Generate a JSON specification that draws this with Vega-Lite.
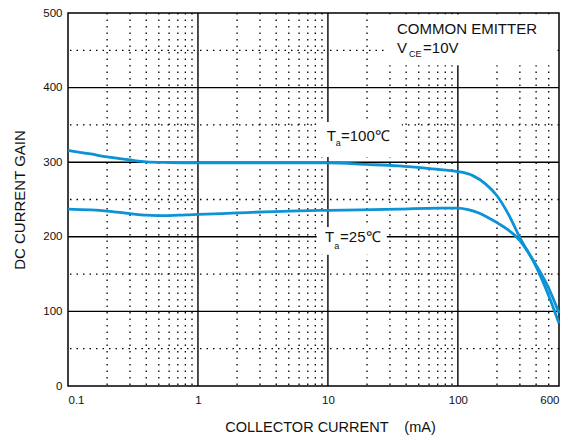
{
  "$schema": "https://vega.github.io/schema/vega-lite/v6.json",
  "width": 491,
  "height": 373,
  "autosize": {"type": "none"},
  "padding": {"left": 68, "top": 13, "right": 14, "bottom": 54},
  "config": {
    "view": {"stroke": "#000", "strokeWidth": 1.5},
    "font": "Liberation Sans",
    "axis": {"grid": false, "ticks": false, "domain": false, "labelFont": "Liberation Sans", "titleFont": "Liberation Sans", "labelColor": "#111", "titleColor": "#111", "titleFontWeight": "normal"}
  },
  "datasets": {
    "curves": [
      {"ic": 0.1, "gain": 316, "ta": "100"},
      {"ic": 0.15, "gain": 311, "ta": "100"},
      {"ic": 0.2, "gain": 307, "ta": "100"},
      {"ic": 0.3, "gain": 303, "ta": "100"},
      {"ic": 0.4, "gain": 300.5, "ta": "100"},
      {"ic": 0.6, "gain": 299.5, "ta": "100"},
      {"ic": 1, "gain": 299, "ta": "100"},
      {"ic": 3, "gain": 299, "ta": "100"},
      {"ic": 6, "gain": 299, "ta": "100"},
      {"ic": 10, "gain": 299, "ta": "100"},
      {"ic": 20, "gain": 297, "ta": "100"},
      {"ic": 35, "gain": 295, "ta": "100"},
      {"ic": 64, "gain": 291, "ta": "100"},
      {"ic": 100, "gain": 287.5, "ta": "100"},
      {"ic": 130, "gain": 282, "ta": "100"},
      {"ic": 163, "gain": 271, "ta": "100"},
      {"ic": 200, "gain": 255, "ta": "100"},
      {"ic": 247, "gain": 229, "ta": "100"},
      {"ic": 300, "gain": 199, "ta": "100"},
      {"ic": 400, "gain": 160, "ta": "100"},
      {"ic": 500, "gain": 121, "ta": "100"},
      {"ic": 600, "gain": 84, "ta": "100"},
      {"ic": 0.1, "gain": 237, "ta": "25"},
      {"ic": 0.2, "gain": 234.5, "ta": "25"},
      {"ic": 0.3, "gain": 231, "ta": "25"},
      {"ic": 0.4, "gain": 229, "ta": "25"},
      {"ic": 0.6, "gain": 228.3, "ta": "25"},
      {"ic": 0.8, "gain": 229.5, "ta": "25"},
      {"ic": 1, "gain": 230, "ta": "25"},
      {"ic": 2, "gain": 232, "ta": "25"},
      {"ic": 5, "gain": 234.5, "ta": "25"},
      {"ic": 10, "gain": 235.5, "ta": "25"},
      {"ic": 35, "gain": 237, "ta": "25"},
      {"ic": 70, "gain": 238.5, "ta": "25"},
      {"ic": 100, "gain": 238.5, "ta": "25"},
      {"ic": 120, "gain": 236.5, "ta": "25"},
      {"ic": 145, "gain": 232, "ta": "25"},
      {"ic": 170, "gain": 226, "ta": "25"},
      {"ic": 200, "gain": 219, "ta": "25"},
      {"ic": 300, "gain": 195, "ta": "25"},
      {"ic": 400, "gain": 162, "ta": "25"},
      {"ic": 500, "gain": 131, "ta": "25"},
      {"ic": 600, "gain": 98, "ta": "25"}
    ],
    "xmajor": [{"v": 1}, {"v": 10}, {"v": 100}],
    "xminor": [
      {"v": 0.2}, {"v": 0.3}, {"v": 0.4}, {"v": 0.5}, {"v": 0.6}, {"v": 0.7}, {"v": 0.8}, {"v": 0.9},
      {"v": 2}, {"v": 3}, {"v": 4}, {"v": 5}, {"v": 6}, {"v": 7}, {"v": 8}, {"v": 9},
      {"v": 20}, {"v": 30}, {"v": 40}, {"v": 50}, {"v": 60}, {"v": 70}, {"v": 80}, {"v": 90},
      {"v": 200}, {"v": 300}, {"v": 400}, {"v": 500}
    ],
    "ymajor": [{"v": 100}, {"v": 200}, {"v": 300}, {"v": 400}],
    "yminor": [{"v": 50}, {"v": 150}, {"v": 250}, {"v": 350}, {"v": 450}],
    "boxes": [
      {"x1": 27.5, "x2": 580, "y1": 430, "y2": 498},
      {"x1": 8.2, "x2": 37, "y1": 307, "y2": 354},
      {"x1": 8.2, "x2": 28.4, "y1": 176, "y2": 213}
    ],
    "bigtext": [
      {"x": 34, "y": 472, "t": "COMMON EMITTER"},
      {"x": 34, "y": 446.4, "t": "V"},
      {"x": 54, "y": 446.4, "t": "=10V"},
      {"x": 9.8, "y": 329, "t": "T"},
      {"x": 12.6, "y": 329, "t": "=100℃"},
      {"x": 9.5, "y": 192.6, "t": "T"},
      {"x": 12.4, "y": 192.6, "t": "=25℃"}
    ],
    "subtext": [
      {"x": 42, "y": 441, "t": "CE"},
      {"x": 11.5, "y": 321.5, "t": "a"},
      {"x": 11.2, "y": 183.6, "t": "a"}
    ]
  },
  "layer": [
    {
      "data": {"name": "xminor"},
      "mark": {"type": "rule", "color": "#000", "strokeWidth": 1.3, "strokeDash": [1.5, 5]},
      "encoding": {"x": {"field": "v", "type": "quantitative", "scale": {"type": "log", "domain": [0.1, 600], "nice": false}}}
    },
    {
      "data": {"name": "yminor"},
      "mark": {"type": "rule", "color": "#000", "strokeWidth": 1.3, "strokeDash": [1.5, 5]},
      "encoding": {"y": {"field": "v", "type": "quantitative", "scale": {"domain": [0, 500], "nice": false}}}
    },
    {
      "data": {"name": "xmajor"},
      "mark": {"type": "rule", "color": "#000", "strokeWidth": 1.4},
      "encoding": {"x": {"field": "v", "type": "quantitative"}}
    },
    {
      "data": {"name": "ymajor"},
      "mark": {"type": "rule", "color": "#000", "strokeWidth": 1.4},
      "encoding": {"y": {"field": "v", "type": "quantitative"}}
    },
    {
      "data": {"name": "boxes"},
      "mark": {"type": "rect", "fill": "#fff"},
      "encoding": {
        "x": {"field": "x1", "type": "quantitative"},
        "x2": {"field": "x2"},
        "y": {"field": "y1", "type": "quantitative"},
        "y2": {"field": "y2"}
      }
    },
    {
      "data": {"name": "curves"},
      "mark": {"type": "line", "color": "#0b93d5", "strokeWidth": 2.8, "interpolate": "monotone"},
      "encoding": {
        "x": {"field": "ic", "type": "quantitative", "scale": {"type": "log", "domain": [0.1, 600], "nice": false},
          "axis": {"values": [0.1, 1, 10, 100, 600], "format": "~g", "labelFontSize": 11.5, "labelPadding": 8,
            "title": "COLLECTOR CURRENT \u00a0\u00a0\u00a0(mA)", "titleFontSize": 14.5, "titlePadding": 15, "titleX": 262}},
        "y": {"field": "gain", "type": "quantitative", "scale": {"domain": [0, 500], "nice": false},
          "axis": {"values": [0, 100, 200, 300, 400, 500], "labelFontSize": 11.5, "labelPadding": 6,
            "title": "DC CURRENT GAIN", "titleFontSize": 15, "titlePadding": 15}},
        "detail": {"field": "ta"}
      }
    },
    {
      "data": {"name": "bigtext"},
      "mark": {"type": "text", "align": "left", "baseline": "alphabetic", "fontSize": 15, "font": "Liberation Sans", "color": "#111"},
      "encoding": {
        "x": {"field": "x", "type": "quantitative"},
        "y": {"field": "y", "type": "quantitative"},
        "text": {"field": "t"}
      }
    },
    {
      "data": {"name": "subtext"},
      "mark": {"type": "text", "align": "left", "baseline": "alphabetic", "fontSize": 9, "font": "Liberation Sans", "color": "#111"},
      "encoding": {
        "x": {"field": "x", "type": "quantitative"},
        "y": {"field": "y", "type": "quantitative"},
        "text": {"field": "t"}
      }
    }
  ]
}
